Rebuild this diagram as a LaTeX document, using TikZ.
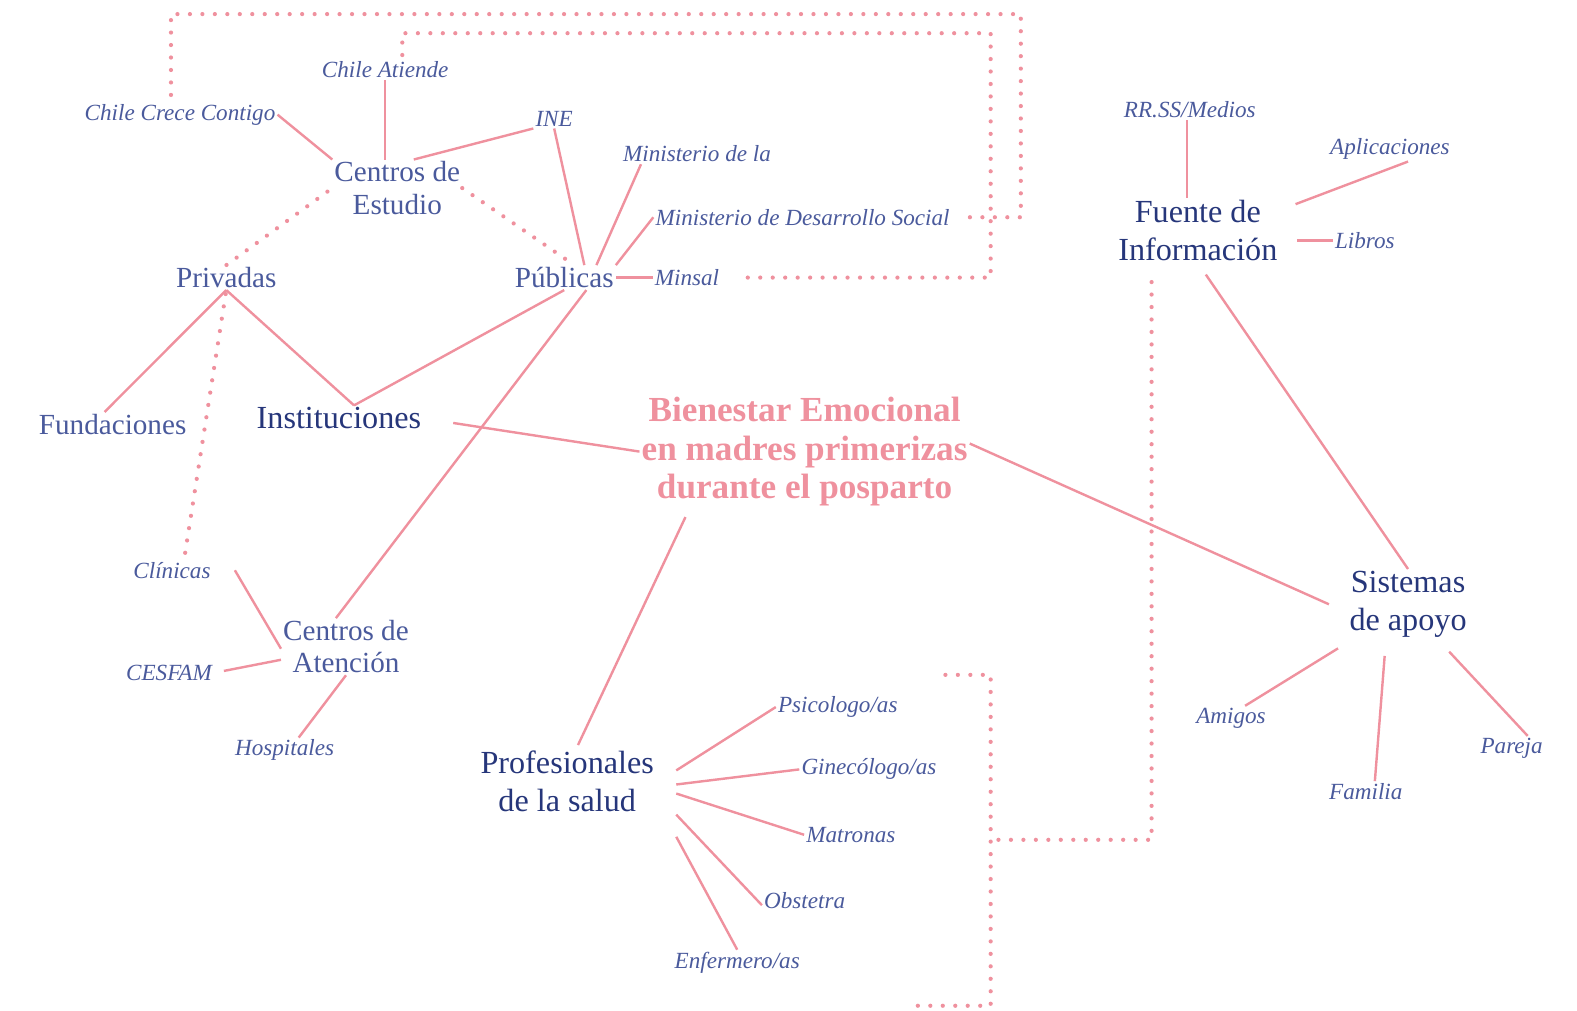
\documentclass[tikz,border=0pt]{standalone}
\usepackage{fontspec}
\setmainfont{Liberation Serif}
\definecolor{rosa}{HTML}{EF919E}
\definecolor{inkblue}{HTML}{4A5A9C}
\definecolor{deepblue}{HTML}{26367A}

\begin{document}
\begin{tikzpicture}[x=1pt, y=-1pt,
  sublabel/.style={text=inkblue, font=\fontsize{23}{27}\selectfont\itshape, inner sep=2pt},
  midlabel/.style={text=inkblue, font=\fontsize{29}{32}\selectfont, align=center, inner sep=2pt},
  mainlabel/.style={text=deepblue, font=\fontsize{32}{38}\selectfont, align=center, inner sep=2pt},
  titlelabel/.style={text=rosa, font=\fontsize{35}{38}\selectfont\bfseries, align=center, inner sep=2pt},
  link/.style={rosa, line width=2.4pt},
  dotlink/.style={rosa, line width=4.2pt, line cap=round, dash pattern=on 0pt off 12.4pt}]

% Canvas
\useasboundingbox (0,0) rectangle (1568,1005);

% Title
\node[titlelabel] (bien) at (800,449)
  {Bienestar Emocional\\en madres primerizas\\durante el posparto};

% Instituciones branch
\node[mainlabel] (inst) at (337,416) {Instituciones};
\node[midlabel] (priv) at (225,276) {Privadas};
\node[midlabel] (pub) at (561,276) {Públicas};
\node[midlabel] (fund) at (112,422) {Fundaciones};
\node[midlabel] (ce) at (395,187) {Centros de\\Estudio};
\node[midlabel] (ca) at (344,643) {Centros de\\Atención};

\node[sublabel] (ccc) at (179,114) {Chile Crece Contigo};
\node[sublabel] (catiende) at (383,69) {Chile Atiende};
\node[sublabel] (ine) at (551,118) {INE};
\node[sublabel] (minla) at (693,153) {Ministerio de la};
\node[sublabel] (mindes) at (798,216) {Ministerio de Desarrollo Social};
\node[sublabel] (minsal) at (683,276) {Minsal};
\node[sublabel] (clin) at (171,567) {Clínicas};
\node[sublabel] (cesfam) at (168,669) {CESFAM};
\node[sublabel] (hosp) at (283,746) {Hospitales};

% Fuente de informacion branch
\node[mainlabel] (fuente) at (1191,229) {Fuente de\\Información};
\node[sublabel] (rrss) at (1183,109) {RR.SS/Medios};
\node[sublabel] (apl) at (1382,148) {Aplicaciones};
\node[sublabel] (libros) at (1357,239) {Libros};

% Sistemas de apoyo branch
\node[mainlabel] (sist) at (1400,601) {Sistemas\\de apoyo};
\node[sublabel] (amigos) at (1224,714) {Amigos};
\node[sublabel] (familia) at (1358,787) {Familia};
\node[sublabel] (pareja) at (1503,744) {Pareja};

% Profesionales branch
\node[mainlabel, inner xsep=22pt] (prof) at (564,777) {Profesionales\\de la salud};
\node[sublabel] (psi) at (833,703) {Psicologo/as};
\node[sublabel] (gine) at (864,765) {Ginecólogo/as};
\node[sublabel] (matr) at (846,830) {Matronas};
\node[sublabel] (obst) at (800,895) {Obstetra};
\node[sublabel] (enf) at (733,957) {Enfermero/as};

% Solid links
\draw[link] (ccc.east) -- (ce.north west);
\draw[link] (catiende.south) -- (catiende.south |- ce.north);
\draw[link] (ine.south west) -- (ce.60);
\draw[link] (ine.south) -- ([xshift=20pt]pub.north);
\draw[link] ([xshift=20pt]minla.south west) -- ([xshift=32pt]pub.north);
\draw[link] (mindes.west) -- (pub.north east);
\draw[link] (minsal.west) -- (pub.east);
\draw[link] (priv.south) -- ([xshift=-8pt]fund.north);
\draw[link] (priv.south) -- ([xshift=15pt]inst.north);
\draw[link] (pub.south) -- ([xshift=15pt]inst.north);
\draw[link] ([xshift=22pt]pub.south) -- ([xshift=-10pt]ca.north);
\draw[link, shorten <=30pt] (inst.east) -- (bien.west);
\draw[link, shorten <=10pt, shorten >=4pt] ([xshift=50pt]bien.south west) -- ([xshift=9pt]prof.north);
\draw[link, shorten >=20pt] ([yshift=8pt]bien.east) -- ([yshift=-8pt]sist.west);
\draw[link, shorten <=14pt] (fuente.south) -- (sist.north);
\draw[link] ([xshift=-3pt]rrss.south) -- ([xshift=-3pt]rrss.south |- fuente.north);
\draw[link, shorten >=17pt] ([xshift=18pt]apl.south) -- ([yshift=20pt]fuente.east);
\draw[link, shorten >=17pt] (libros.west) -- (libros.west -| fuente.east);
\draw[link, shorten <=16pt] ([xshift=-56pt]sist.south) -- ([xshift=14pt]amigos.north);
\draw[link, shorten <=16pt] ([xshift=-22pt]sist.south) -- ([xshift=9pt]familia.north);
\draw[link, shorten <=16pt] ([xshift=30pt]sist.south) -- ([xshift=16pt]pareja.north);
\draw[link] ([xshift=22pt]clin.east) -- ([yshift=-2pt]ca.west);
\draw[link, shorten <=10pt] (cesfam.east) -- ([yshift=-13pt]ca.west);
\draw[link] (ca.south) -- ([xshift=14pt]hosp.north);
\draw[link] ([yshift=11pt]prof.east) -- (psi.west);
\draw[link] ([yshift=-3pt]prof.east) -- (gine.west);
\draw[link] ([yshift=-12pt]prof.east) -- (matr.west);
\draw[link] ([yshift=-33pt]prof.east) -- ([yshift=-5pt]obst.west);
\draw[link] ([yshift=-55pt]prof.east) -- (enf.north);

% Dotted links
\draw[dotlink, shorten <=6pt] (ce.west) -- (priv.north);
\draw[dotlink] (ce.east) -- ([xshift=10pt]pub.north);
\draw[dotlink, shorten <=4pt] (priv.south) -- ([xshift=12pt]clin.north);
\draw[dotlink, shorten >=14pt] ([xshift=-9pt, yshift=7pt]ccc.north) |- (1015,14) |- (mindes.east);
\draw[dotlink, shorten >=22pt] ([xshift=17pt, yshift=4pt]catiende.north) |- (985,33) |- (minsal.east);
\draw[dotlink, shorten <=19pt] ([xshift=-46pt]fuente.south) |- (985,835);

% Bracket beside the professionals
\coordinate (profA) at (940,671);
\coordinate (profB) at (905,1000);
\draw[dotlink] (profA) -| (985,1000) -- (profB);

\end{tikzpicture}
\end{document}
